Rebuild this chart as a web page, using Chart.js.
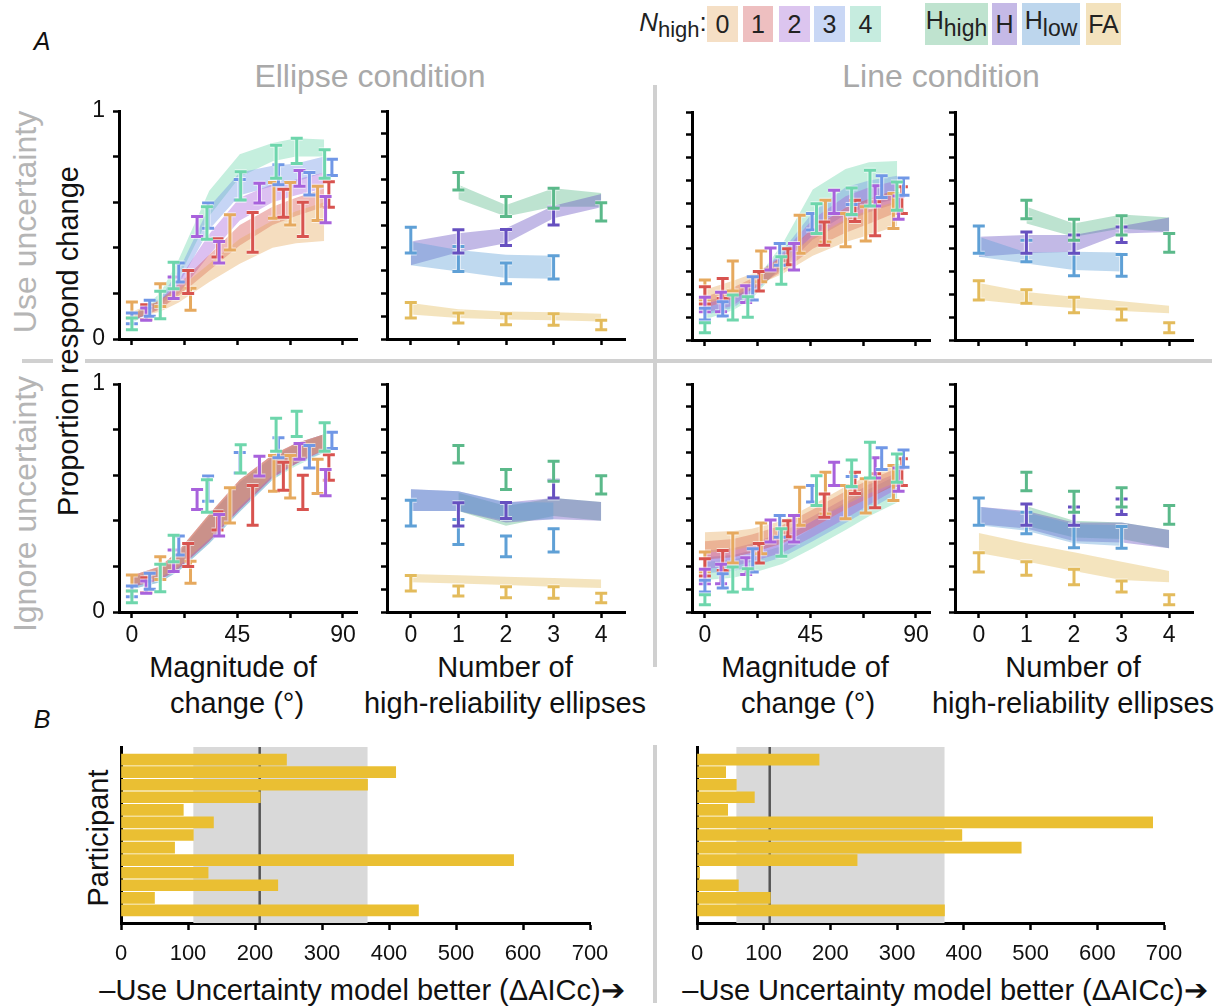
<!DOCTYPE html>
<html>
<head>
<meta charset="utf-8">
<script src="https://cdn.jsdelivr.net/npm/chart.js@4.4.0/dist/chart.umd.min.js"></script>
<style>
body{margin:0;background:#fff;width:1225px;height:1008px;position:relative;overflow:hidden;font-family:"Liberation Sans",Arial,sans-serif;color:#111}
canvas{position:absolute}
.t{position:absolute;transform:translate(-50%,-50%);white-space:nowrap;line-height:1}
.r{transform:translate(-50%,-50%) rotate(-90deg)}
.grey{color:#a9a9a9}
.box{position:absolute;display:flex;align-items:center;justify-content:center;font-size:25px;color:#222}
.box span sub{font-size:23px;vertical-align:-7px;line-height:0}
.hl{position:absolute;background:#d0d0d0}
</style>
</head>
<body>
<!-- panel letters, titles -->
<div class="t" style="left:42px;top:41px;font-size:25px;font-style:italic">A</div>
<div class="t" style="left:42px;top:719px;font-size:25px;font-style:italic">B</div>
<div class="t grey" style="left:370px;top:76px;font-size:32px">Ellipse condition</div>
<div class="t grey" style="left:941px;top:76px;font-size:32px">Line condition</div>
<div class="t r grey" style="left:25px;top:222px;font-size:32px;color:#b5b5b5">Use uncertainty</div>
<div class="t r grey" style="left:25px;top:504px;font-size:32px;color:#b5b5b5">Ignore uncertainty</div>
<div class="t r" style="left:68px;top:341px;font-size:29px">Proportion respond change</div>
<div class="t" style="left:233px;top:667px;font-size:29px">Magnitude of</div>
<div class="t" style="left:237px;top:703px;font-size:29px">change (°)</div>
<div class="t" style="left:505px;top:667px;font-size:29px">Number of</div>
<div class="t" style="left:505px;top:703px;font-size:29px">high-reliability ellipses</div>
<div class="t" style="left:805px;top:667px;font-size:29px">Magnitude of</div>
<div class="t" style="left:808px;top:703px;font-size:29px">change (°)</div>
<div class="t" style="left:1073px;top:667px;font-size:29px">Number of</div>
<div class="t" style="left:1073px;top:703px;font-size:29px">high-reliability ellipses</div>
<div class="t r" style="left:98px;top:838px;font-size:29px">Participant</div>
<div class="t" style="left:362px;top:990px;font-size:29px">–Use Uncertainty model better (ΔAICc)➔</div>
<div class="t" style="left:945px;top:990px;font-size:29px">–Use Uncertainty model better (ΔAICc)➔</div>

<!-- legend -->
<div class="t" style="left:673px;top:25px;font-size:26px;color:#222"><i>N</i><sub style="font-size:22px">high</sub>:</div>
<div class="box" style="left:707px;top:6px;width:31px;height:36px;background:#f5dfc5">0</div>
<div class="box" style="left:743px;top:6px;width:30px;height:36px;background:#eebfc0">1</div>
<div class="box" style="left:779px;top:6px;width:31px;height:36px;background:#dcc5ef">2</div>
<div class="box" style="left:814px;top:6px;width:31px;height:36px;background:#c9d7f5">3</div>
<div class="box" style="left:850px;top:6px;width:31px;height:36px;background:#c6ecdf">4</div>
<div class="box" style="left:925px;top:3px;width:63px;height:42px;background:#bfe3cf"><span style="margin-top:-8px">H<sub>high</sub></span></div>
<div class="box" style="left:992px;top:3px;width:25px;height:42px;background:#c5b9e6">H</div>
<div class="box" style="left:1022px;top:3px;width:58px;height:42px;background:#bdd6ed"><span style="margin-top:-8px">H<sub>low</sub></span></div>
<div class="box" style="left:1086px;top:3px;width:35px;height:42px;background:#f3e2bd">FA</div>

<!-- dividers -->
<div class="hl" style="left:22px;top:359px;width:31px;height:4px"></div>
<div class="hl" style="left:85px;top:359px;width:1127px;height:4px"></div>
<div class="hl" style="left:653px;top:85px;width:4px;height:582px"></div>
<div class="hl" style="left:653px;top:745px;width:4px;height:258px"></div>

<script>
// ---------- data ----------
const magTicks = [0, 22.5, 45, 67.5, 90];
const numTicks = [0, 1, 2, 3, 4];
const yTicks = [0, .1, .2, .3, .4, .5, .6, .7, .8, .9, 1];

const nHighColors = ['#e6a95e', '#d8534f', '#a862dc', '#7097e6', '#6ed6ac'];
const nHighFills = ['rgba(230,169,94,0.4)', 'rgba(216,83,79,0.4)', 'rgba(168,98,220,0.4)', 'rgba(112,151,230,0.4)', 'rgba(110,214,172,0.4)'];
// H_high, H, H_low, FA
const condColors = ['#5bb98a', '#6650c0', '#5fa0d6', '#e3bb5c'];
const condFills = ['rgba(91,185,138,0.4)', 'rgba(102,80,192,0.4)', 'rgba(95,160,214,0.4)', 'rgba(227,187,92,0.4)'];

// observed proportions, [magnitude, lower, upper], ellipse condition, per N_high
const ellN0 = [[0,.092,.162],[12.1,.143,.242],[25,.126,.223],[41.8,.39,.545],[60.6,.53,.686],[67.5,.50,.686],[79.2,.52,.67]];
const ellN1 = [[6.1,.085,.15],[24,.20,.30],[36.5,.36,.44],[51.5,.38,.555],[64.6,.534,.657],[72.9,.45,.60],[84,.578,.69]];
const ellN2 = [[6.1,.082,.136],[17.8,.178,.272],[27.8,.45,.537],[37.2,.333,.428],[54.4,.596,.683],[71.5,.67,.739],[82.6,.51,.625]];
const ellN3 = [[0,.067,.114],[7.6,.10,.17],[20,.25,.333],[32.5,.486,.596],[46,.61,.70],[62.5,.676,.764],[75.7,.632,.73],[85.3,.717,.788]];
const ellN4 = [[0,.041,.092],[12.1,.089,.209],[17.8,.22,.337],[32,.438,.58],[46.4,.61,.734],[61.5,.705,.85],[70.3,.77,.88],[82.2,.705,.83]];

// line condition
const lineN0 = [[0,.175,.263],[11.9,.215,.346],[24,.255,.39],[40.4,.38,.547],[51.4,.43,.613],[60,.409,.555],[68.6,.434,.584],[80.4,.489,.642]];
const lineN1 = [[0,.158,.234],[7.6,.182,.27],[23,.215,.30],[35.4,.33,.40],[50.9,.416,.518],[64,.52,.613],[72.6,.457,.606],[84,.555,.672]];
const lineN2 = [[0,.124,.187],[6.9,.124,.209],[17.6,.165,.238],[28,.307,.404],[38,.307,.423],[55.1,.555,.657],[72.6,.588,.676],[82.6,.53,.632]];
const lineN3 = [[0,.088,.139],[7.6,.105,.168],[20.4,.175,.277],[31.9,.328,.423],[45.7,.482,.555],[62.6,.547,.594],[75.4,.625,.72],[84.7,.635,.711]];
const lineN4 = [[0,.032,.076],[11.9,.088,.197],[18.3,.10,.19],[32.6,.245,.365],[47.6,.467,.598],[62.6,.55,.667],[70.4,.588,.745],[81.9,.569,.693]];

// observed by number of high-reliability ellipses: [N, lower, upper]
const ellHhigh = [[1,.654,.730],[2,.537,.625],[3,.574,.661],[4,.518,.598]];
const ellH     = [[1,.377,.479],[2,.41,.48],[3,.50,.578]];
const ellHlow  = [[0,.377,.49],[1,.296,.406],[2,.242,.333],[3,.263,.365]];
const ellFA    = [[0,.092,.16],[1,.07,.114],[2,.063,.111],[3,.06,.111],[4,.041,.082]];
const lineHhigh = [[1,.532,.613],[2,.438,.53],[3,.46,.545],[4,.385,.467]];
const lineH     = [[1,.38,.474],[2,.38,.46],[3,.428,.496]];
const lineHlow  = [[0,.38,.50],[1,.343,.438],[2,.282,.38],[3,.28,.375]];
const lineFA    = [[0,.175,.26],[1,.161,.22],[2,.120,.187],[3,.088,.136],[4,.032,.076]];

// model fit bands (magnitude)
const bandMag = [0, 12, 20, 33, 46, 60, 70, 82];
const ellUseLo = [[.09,.12,.16,.25,.33,.40,.42,.43],[.08,.13,.19,.30,.41,.50,.54,.58],[.08,.13,.20,.37,.52,.60,.63,.66],[.07,.14,.24,.48,.63,.67,.69,.73],[.07,.15,.27,.54,.71,.78,.80,.80]];
const ellUseHi = [[.12,.17,.22,.33,.44,.52,.56,.60],[.11,.17,.24,.37,.50,.58,.62,.66],[.10,.17,.26,.46,.62,.68,.70,.73],[.10,.18,.30,.58,.73,.76,.77,.80],[.10,.20,.35,.65,.81,.86,.88,.875]];
const lineUseLo = [[.16,.19,.23,.29,.37,.43,.46,.50],[.14,.18,.22,.30,.40,.47,.51,.56],[.12,.15,.21,.31,.44,.52,.56,.60],[.11,.14,.20,.32,.46,.55,.59,.62],[.09,.13,.18,.33,.50,.58,.61,.64]];
const lineUseHi = [[.22,.26,.29,.36,.45,.53,.57,.61],[.19,.23,.27,.37,.49,.58,.62,.66],[.17,.20,.26,.38,.53,.63,.67,.70],[.16,.19,.26,.39,.56,.67,.70,.72],[.14,.18,.24,.42,.66,.75,.78,.785]];
const ellIgnLo = [[.12,.15,.20,.32,.46,.60,.66,.71],[.11,.14,.19,.31,.45,.59,.65,.71],[.11,.14,.19,.31,.45,.59,.65,.71],[.10,.13,.18,.30,.44,.58,.65,.70],[.10,.13,.18,.30,.44,.58,.64,.70]];
const ellIgnHi = [[.16,.20,.27,.43,.58,.69,.74,.78],[.16,.20,.27,.43,.58,.69,.74,.78],[.16,.20,.27,.43,.58,.69,.74,.78],[.15,.19,.26,.42,.57,.68,.74,.78],[.15,.19,.26,.42,.57,.68,.73,.78]];
const lineIgnLo = [[.26,.27,.29,.33,.40,.47,.52,.57],[.23,.24,.26,.30,.37,.45,.50,.56],[.19,.20,.22,.26,.33,.41,.47,.54],[.17,.18,.20,.24,.31,.39,.45,.52],[.14,.15,.17,.21,.28,.36,.42,.48]];
const lineIgnHi = [[.35,.355,.365,.40,.47,.55,.60,.65],[.31,.32,.34,.38,.45,.53,.58,.63],[.27,.28,.30,.35,.42,.50,.56,.61],[.24,.25,.27,.32,.40,.48,.54,.60],[.22,.23,.25,.29,.37,.45,.50,.57]];

// model fit bands (number of high-reliability ellipses)
const xHhigh = [1, 2, 3, 4];
const xH = [0, 1, 2, 3, 4];
const xHlow = [0, 1, 2, 3];
const xFA = [0, 1, 2, 3, 4];
const ellUseHhighLo = [.613,.537,.58,.58],  ellUseHhighHi = [.676,.588,.661,.64];
const ellUseHLo = [.323,.38,.42,.53,.578],   ellUseHHi = [.428,.464,.486,.584,.636];
const ellUseHlowLo = [.323,.296,.267,.264],  ellUseHlowHi = [.428,.39,.37,.365];
const ellUseFALo = [.107,.092,.085,.082,.077], ellUseFAHi = [.158,.131,.121,.117,.111];
const lineUseHhighLo = [.511,.453,.489,.474], lineUseHhighHi = [.584,.511,.55,.537];
const lineUseHLo = [.365,.38,.387,.467,.474],  lineUseHHi = [.453,.46,.46,.50,.537];
const lineUseHlowLo = [.365,.336,.307,.30],    lineUseHlowHi = [.453,.384,.387,.384];
const lineUseFALo = [.175,.155,.14,.127,.117], lineUseFAHi = [.25,.21,.19,.17,.15];
const ellIgnHhighLo = [.443,.378,.421,.40],   ellIgnHhighHi = [.523,.465,.50,.483];
const ellIgnHLo = [.443,.443,.392,.407,.40],   ellIgnHHi = [.538,.53,.48,.50,.483];
const ellIgnHlowLo = [.443,.443,.40,.407],     ellIgnHlowHi = [.538,.53,.483,.48];
const ellIgnFALo = [.131,.125,.118,.111,.105], ellIgnFAHi = [.167,.161,.155,.149,.142];
const lineIgnHhighLo = [.378,.327,.32,.28],    lineIgnHhighHi = [.465,.40,.392,.36];
const lineIgnHLo = [.385,.366,.31,.305,.28],   lineIgnHHi = [.462,.443,.392,.392,.36];
const lineIgnHlowLo = [.38,.356,.302,.29],     lineIgnHlowHi = [.462,.436,.385,.38];
const lineIgnFALo = [.259,.222,.18,.14,.131],  lineIgnFAHi = [.346,.302,.262,.22,.18];

// part B: delta AICc per participant
const ellipseDelta = [247, 410, 368, 208, 93, 138, 108, 80, 586, 130, 234, 50, 444];
const lineDelta = [183, 43, 59, 86, 46, 683, 397, 486, 240, 4, 62, 110, 371];
const ellipseCI = [108, 368], ellipseMedian = 207;
const lineCI = [59, 371], lineMedian = 109;
const aicTicks = [0, 100, 200, 300, 400, 500, 600, 700];

// ---------- helpers ----------
Chart.defaults.font.family = "'Liberation Sans', Arial, sans-serif";
Chart.defaults.color = '#111';

const errorBars = {
  id: 'errorBars',
  afterDatasetsDraw(chart) {
    const ctx = chart.ctx, xs = chart.scales.x, ys = chart.scales.y;
    chart.data.datasets.forEach(ds => {
      if (!ds.errColor) return;
      ds.data.forEach(p => {
        const x = xs.getPixelForValue(p.x), t = ys.getPixelForValue(p.hi), b = ys.getPixelForValue(p.lo);
        const path = () => {
          ctx.beginPath();
          ctx.moveTo(x, t); ctx.lineTo(x, b);
          ctx.moveTo(x - 6, t); ctx.lineTo(x + 6, t);
          ctx.moveTo(x - 6, b); ctx.lineTo(x + 6, b);
        };
        ctx.save();
        ctx.lineCap = 'butt';
        ctx.strokeStyle = 'rgba(255,255,255,0.6)'; ctx.lineWidth = 5; path(); ctx.stroke();
        ctx.strokeStyle = ds.errColor; ctx.lineWidth = 3; path(); ctx.stroke();
        ctx.restore();
      });
    });
  }
};

function band(xs, lo, hi, fill) {
  return [
    {data: xs.map((x, i) => ({x, y: lo[i]})), borderColor: 'transparent', borderWidth: 0, pointRadius: 0, fill: false},
    {data: xs.map((x, i) => ({x, y: hi[i]})), borderColor: 'transparent', borderWidth: 0, pointRadius: 0, fill: '-1', backgroundColor: fill}
  ];
}
function errs(pts, color) {
  return {data: pts.map(p => ({x: p[0], y: (p[1] + p[2]) / 2, lo: p[1], hi: p[2]})), showLine: false, pointRadius: 0, errColor: color};
}

const AX_W = 238, AX_H = 228, YW = 34, PT = 26, PR = 14;

function panel(left, top, kind, showX, showY, datasets) {
  const hx = showX ? 44 : 26;
  const c = document.createElement('canvas');
  c.width = YW + AX_W + PR; c.height = PT + AX_H + hx;
  c.style.left = (left - YW) + 'px'; c.style.top = (top - PT) + 'px';
  document.body.appendChild(c);
  const mag = kind === 'mag';
  const xt = mag ? magTicks : numTicks;
  new Chart(c, {
    type: 'line',
    data: {datasets},
    plugins: [errorBars],
    options: {
      responsive: false, animation: false,
      layout: {padding: {top: PT, right: PR, left: 0, bottom: 0}},
      plugins: {legend: {display: false}, tooltip: {enabled: false}},
      scales: {
        x: {
          type: 'linear', min: mag ? -5.5 : -0.5, max: mag ? 96 : 4.5,
          afterBuildTicks: s => { s.ticks = xt.map(v => ({value: v})); },
          afterFit: s => { s.height = hx; },
          ticks: {display: showX, padding: 4, font: {size: 23}, color: '#111',
                  callback: v => (mag ? (v % 45 === 0 ? String(v) : '') : String(v))},
          grid: {drawOnChartArea: false, tickLength: 6, tickWidth: 2.5, tickColor: '#000'},
          border: {color: '#000', width: 3}
        },
        y: {
          type: 'linear', min: 0, max: 1,
          afterBuildTicks: s => { s.ticks = yTicks.map(v => ({value: v})); },
          afterFit: s => { s.width = YW; },
          ticks: {display: showY, padding: 8, font: {size: 23}, color: '#111',
                  callback: v => (v === 0 || v === 1 ? String(v) : '')},
          grid: {drawOnChartArea: false, tickLength: 6, tickWidth: 2.5, tickColor: '#000'},
          border: {color: '#000', width: 3}
        }
      }
    }
  });
}

function magSets(lo, hi, pts) {
  let sets = [];
  for (let i = 0; i < 5; i++) sets = sets.concat(band(bandMag, lo[i], hi[i], nHighFills[i]));
  pts.forEach((p, i) => sets.push(errs(p, nHighColors[i])));
  return sets;
}
function numSets(b, pts) {
  // b: [HhighLo, HhighHi, HLo, HHi, HlowLo, HlowHi, FALo, FAHi]
  let sets = [];
  sets = sets.concat(band(xFA, b[6], b[7], condFills[3]));
  sets = sets.concat(band(xHlow, b[4], b[5], condFills[2]));
  sets = sets.concat(band(xH, b[2], b[3], condFills[1]));
  sets = sets.concat(band(xHhigh, b[0], b[1], condFills[0]));
  [3, 2, 1, 0].forEach(i => sets.push(errs(pts[i], condColors[i])));
  return sets;
}

const ellPts = [ellN0, ellN1, ellN2, ellN3, ellN4];
const linePts = [lineN0, lineN1, lineN2, lineN3, lineN4];
const ellNumPts = [ellHhigh, ellH, ellHlow, ellFA];
const lineNumPts = [lineHhigh, lineH, lineHlow, lineFA];

panel(119, 111, 'mag', false, true, magSets(ellUseLo, ellUseHi, ellPts));
panel(387, 111, 'num', false, false, numSets([ellUseHhighLo, ellUseHhighHi, ellUseHLo, ellUseHHi, ellUseHlowLo, ellUseHlowHi, ellUseFALo, ellUseFAHi], ellNumPts));
panel(692, 112, 'mag', false, false, magSets(lineUseLo, lineUseHi, linePts));
panel(955, 112, 'num', false, false, numSets([lineUseHhighLo, lineUseHhighHi, lineUseHLo, lineUseHHi, lineUseHlowLo, lineUseHlowHi, lineUseFALo, lineUseFAHi], lineNumPts));
panel(119, 384, 'mag', true, true, magSets(ellIgnLo, ellIgnHi, ellPts));
panel(387, 384, 'num', true, false, numSets([ellIgnHhighLo, ellIgnHhighHi, ellIgnHLo, ellIgnHHi, ellIgnHlowLo, ellIgnHlowHi, ellIgnFALo, ellIgnFAHi], ellNumPts));
panel(692, 384, 'mag', true, false, magSets(lineIgnLo, lineIgnHi, linePts));
panel(955, 384, 'num', true, false, numSets([lineIgnHhighLo, lineIgnHhighHi, lineIgnHLo, lineIgnHHi, lineIgnHlowLo, lineIgnHlowHi, lineIgnFALo, lineIgnFAHi], lineNumPts));

// ---------- part B ----------
const ciBand = {
  id: 'ciBand',
  beforeDatasetsDraw(chart, args, o) {
    const {ctx, chartArea: a} = chart, x = chart.scales.x;
    const l = x.getPixelForValue(o.lo), r = x.getPixelForValue(o.hi), m = x.getPixelForValue(o.med);
    ctx.save();
    ctx.fillStyle = '#d9d9d9';
    ctx.fillRect(l, a.top, r - l, a.bottom - a.top);
    ctx.strokeStyle = '#555'; ctx.lineWidth = 2.5;
    ctx.beginPath(); ctx.moveTo(m, a.top); ctx.lineTo(m, a.bottom); ctx.stroke();
    ctx.restore();
  }
};

const BL = 22, BR = 36;
function aicChart(axisLeft, axisW, vals, ci, med) {
  const c = document.createElement('canvas');
  c.width = BL + axisW + BR; c.height = 2 + 176 + 46;
  c.style.left = (axisLeft - BL) + 'px'; c.style.top = '745px';
  document.body.appendChild(c);
  new Chart(c, {
    type: 'bar',
    data: {datasets: [{data: vals.map((v, i) => ({x: v, y: i})), backgroundColor: '#eabf33', borderWidth: 0, barThickness: 11}]},
    plugins: [ciBand],
    options: {
      indexAxis: 'y', responsive: false, animation: false,
      layout: {padding: {left: BL, right: BR, top: 2, bottom: 0}},
      plugins: {legend: {display: false}, tooltip: {enabled: false}, ciBand: {lo: ci[0], hi: ci[1], med}},
      scales: {
        x: {
          type: 'linear', min: 0, max: 700,
          afterBuildTicks: s => { s.ticks = aicTicks.map(v => ({value: v})); },
          afterFit: s => { s.height = 46; },
          ticks: {padding: 11, font: {size: 22}, color: '#111'},
          grid: {drawOnChartArea: false, tickLength: 7, tickWidth: 2.5, tickColor: '#000'},
          border: {color: '#000', width: 3}
        },
        y: {
          type: 'linear', min: -1, max: 13, reverse: true, offset: false,
          afterFit: s => { s.width = 0; },
          ticks: {display: false},
          grid: {display: false, offset: false},
          border: {color: '#000', width: 3}
        }
      }
    }
  });
}
aicChart(121, 469, ellipseDelta, ellipseCI, ellipseMedian);
aicChart(697, 467, lineDelta, lineCI, lineMedian);
</script>
</body>
</html>
